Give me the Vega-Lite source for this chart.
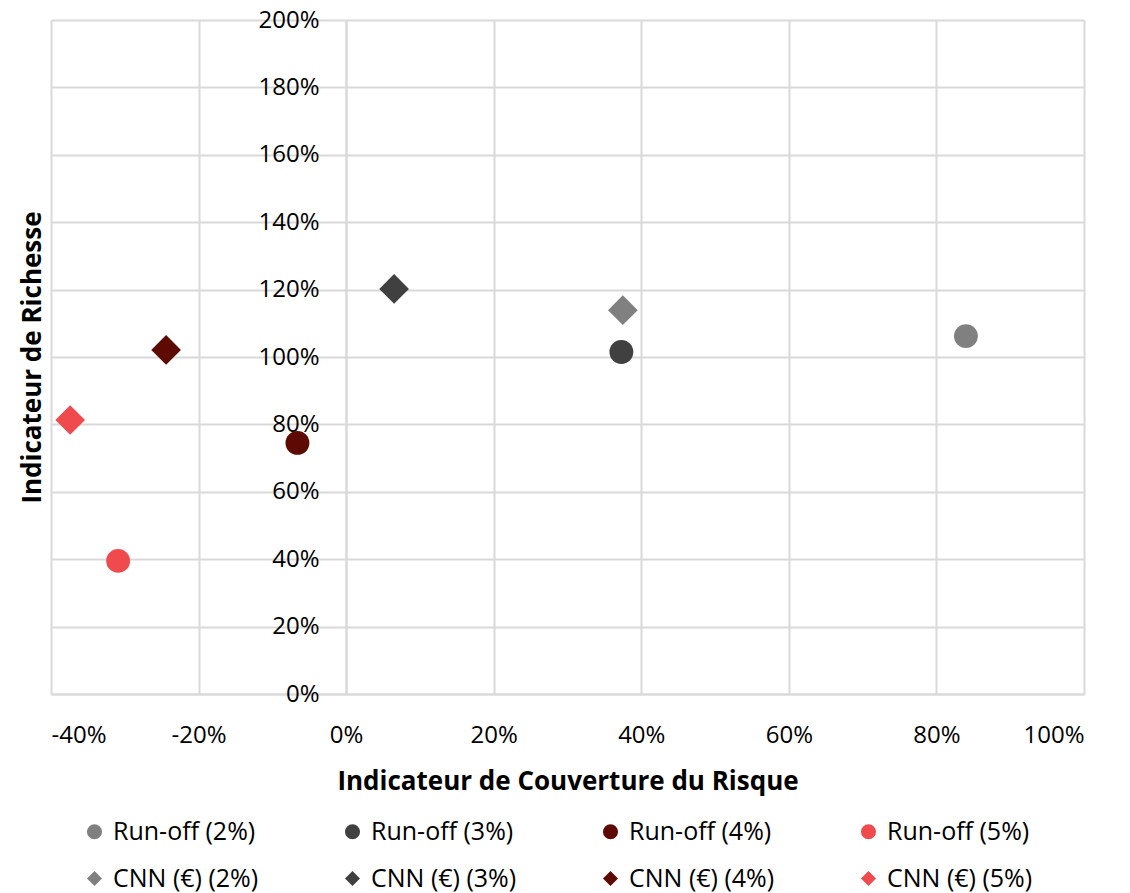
{
  "$schema": "https://vega.github.io/schema/vega-lite/v6.json",
  "width": 1033,
  "height": 674,
  "autosize": {"type": "none"},
  "padding": {"left": 51, "top": 20, "right": 46, "bottom": 199},
  "background": "white",
  "config": {
    "font": "Open Sans",
    "view": {"stroke": null},
    "axis": {"labelFont": "Open Sans", "titleFont": "Open Sans", "labelColor": "#000000", "titleColor": "#000000"}
  },
  "data": {
    "values": [
      {"serie": "Run-off (2%)", "couverture": 0.840, "richesse": 1.062},
      {"serie": "Run-off (3%)", "couverture": 0.373, "richesse": 1.015},
      {"serie": "Run-off (4%)", "couverture": -0.066, "richesse": 0.745},
      {"serie": "Run-off (5%)", "couverture": -0.309, "richesse": 0.395},
      {"serie": "CNN (€) (2%)", "couverture": 0.375, "richesse": 1.139},
      {"serie": "CNN (€) (3%)", "couverture": 0.065, "richesse": 1.202},
      {"serie": "CNN (€) (4%)", "couverture": -0.244, "richesse": 1.021},
      {"serie": "CNN (€) (5%)", "couverture": -0.374, "richesse": 0.813}
    ]
  },
  "encoding": {
    "x": {
      "field": "couverture",
      "type": "quantitative",
      "scale": {"domain": [-0.4, 1.0], "nice": false, "zero": false},
      "axis": {
        "title": "Indicateur de Couverture du Risque",
        "titleFontSize": 26,
        "titleFontWeight": "bold",
        "titlePadding": 21,
        "labelExpr": "replace(format(datum.value, '.0%'), '\u2212', '-')",
        "values": [-0.4, -0.2, 0, 0.2, 0.4, 0.6, 0.8, 1.0],
        "labelFontSize": 24,
        "labelPadding": 29,
        "ticks": false,
        "domainColor": "#d9d9d9",
        "domainWidth": 2,
        "gridColor": "#d9d9d9",
        "gridWidth": 2
      }
    },
    "y": {
      "field": "richesse",
      "type": "quantitative",
      "scale": {"domain": [0, 2.0], "nice": false},
      "axis": {
        "title": "Indicateur de Richesse",
        "titleFontSize": 26,
        "titleFontWeight": "bold",
        "titleAngle": -90,
        "titleX": -314,
        "titleY": 337,
        "titleAlign": "center",
        "titleBaseline": "middle",
        "format": ".0%",
        "values": [0, 0.2, 0.4, 0.6, 0.8, 1.0, 1.2, 1.4, 1.6, 1.8, 2.0],
        "offset": -295,
        "labelFontSize": 24,
        "labelPadding": 27,
        "ticks": false,
        "domainColor": "#d9d9d9",
        "domainWidth": 2,
        "gridColor": "#d9d9d9",
        "gridWidth": 2
      }
    },
    "color": {
      "field": "serie",
      "type": "nominal",
      "scale": {
        "domain": ["Run-off (2%)", "CNN (€) (2%)", "Run-off (3%)", "CNN (€) (3%)", "Run-off (4%)", "CNN (€) (4%)", "Run-off (5%)", "CNN (€) (5%)"],
        "range": ["#808080", "#808080", "#404040", "#404040", "#5c0a02", "#5c0a02", "#f04a4e", "#f04a4e"]
      },
      "legend": {
        "title": null,
        "orient": "none",
        "legendX": 31,
        "legendY": 799,
        "columns": 4,
        "gridAlign": "all",
        "columnPadding": 81,
        "rowPadding": 21,
        "symbolSize": 227,
        "labelFontSize": 25,
        "labelFont": "Open Sans",
        "labelColor": "#000000",
        "labelOffset": 6,
        "labelLimit": 300,
        "encode": {
          "symbols": {
            "update": {
              "size": {"signal": "indexof(datum.value, 'CNN') === 0 ? 190 : 280"}
            }
          }
        }
      }
    },
    "shape": {
      "field": "serie",
      "type": "nominal",
      "scale": {
        "domain": ["Run-off (2%)", "CNN (€) (2%)", "Run-off (3%)", "CNN (€) (3%)", "Run-off (4%)", "CNN (€) (4%)", "Run-off (5%)", "CNN (€) (5%)"],
        "range": ["circle", "diamond", "circle", "diamond", "circle", "diamond", "circle", "diamond"]
      }
    }
  },
  "layer": [
    {
      "transform": [{"filter": "indexof(datum.serie, 'Run-off') === 0"}],
      "mark": {"type": "point", "filled": true, "opacity": 1, "size": 570}
    },
    {
      "transform": [{"filter": "indexof(datum.serie, 'CNN') === 0"}],
      "mark": {"type": "point", "filled": true, "opacity": 1, "size": 880}
    }
  ]
}
